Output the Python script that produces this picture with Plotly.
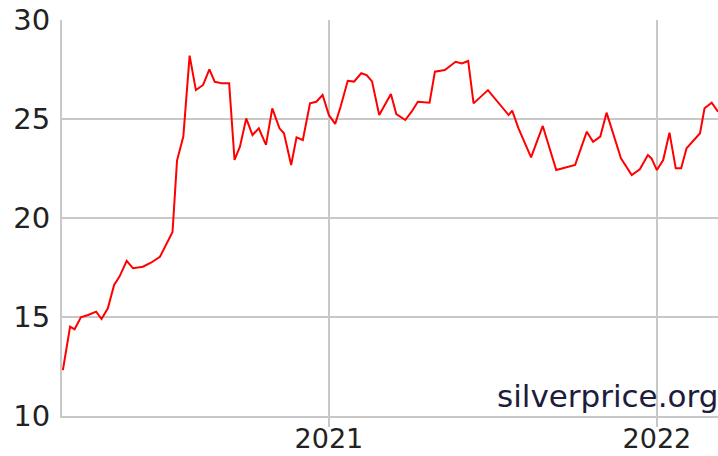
import plotly.graph_objects as go

dates = [
    "2020-03-11", "2020-03-19", "2020-03-24", "2020-03-31", "2020-04-08", "2020-04-17",
    "2020-04-23", "2020-04-30", "2020-05-07", "2020-05-13", "2020-05-21", "2020-05-28",
    "2020-06-08", "2020-06-17", "2020-06-27", "2020-07-06", "2020-07-11", "2020-07-16",
    "2020-07-23", "2020-07-30", "2020-08-06", "2020-08-14", "2020-08-21", "2020-08-27",
    "2020-09-04", "2020-09-12", "2020-09-18", "2020-09-24", "2020-10-01", "2020-10-08",
    "2020-10-15", "2020-10-23", "2020-10-30", "2020-11-07", "2020-11-12", "2020-11-20",
    "2020-11-26", "2020-12-03", "2020-12-11", "2020-12-18", "2020-12-25", "2021-01-01",
    "2021-01-08", "2021-01-14", "2021-01-22", "2021-01-29", "2021-02-06", "2021-02-12",
    "2021-02-18", "2021-02-26", "2021-03-11", "2021-03-17", "2021-03-27", "2021-04-03",
    "2021-04-10", "2021-04-23", "2021-04-29", "2021-05-10", "2021-05-22", "2021-05-29",
    "2021-06-05", "2021-06-11", "2021-06-27", "2021-07-20", "2021-07-24", "2021-07-31",
    "2021-08-14", "2021-08-27", "2021-09-11", "2021-10-02", "2021-10-15", "2021-10-22",
    "2021-10-30", "2021-11-06", "2021-11-13", "2021-11-22", "2021-12-04", "2021-12-13",
    "2021-12-22", "2021-12-26", "2022-01-01", "2022-01-08", "2022-01-15", "2022-01-22",
    "2022-01-28", "2022-02-03", "2022-02-18", "2022-02-23", "2022-03-03", "2022-03-10",
]
prices = [
    12.32, 14.51, 14.38, 14.98, 15.10, 15.27,
    14.90, 15.44, 16.62, 17.04, 17.84, 17.46,
    17.54, 17.74, 18.04, 18.89, 19.30, 22.90,
    24.11, 28.20, 26.46, 26.72, 27.51, 26.88,
    26.80, 26.80, 22.93, 23.60, 25.03, 24.19,
    24.53, 23.69, 25.54, 24.53, 24.28, 22.68,
    24.07, 23.94, 25.79, 25.87, 26.21, 25.20,
    24.75, 25.62, 26.93, 26.89, 27.31, 27.22,
    26.90, 25.20, 26.26, 25.25, 24.95, 25.37,
    25.87, 25.82, 27.39, 27.47, 27.89, 27.81,
    27.93, 25.79, 26.46, 25.20, 25.42, 24.53,
    23.06, 24.65, 22.42, 22.68, 24.36, 23.85,
    24.11, 25.32, 24.36, 23.01, 22.17, 22.46,
    23.18, 23.01, 22.42, 22.93, 24.31, 22.51,
    22.51, 23.52, 24.28, 25.54, 25.82, 25.37,
]
y_ticks = [10, 15, 20, 25, 30]
x_ticks = ["2021-01-01", "2022-01-01"]
x_tick_labels = ["2021", "2022"]
watermark = "silverprice.org"

FONT = "DejaVu Sans"
GRID = "#c8c8c8"
TXT = "#222222"

fig = go.Figure()
fig.add_trace(go.Scatter(
    x=dates, y=prices, mode="lines",
    line=dict(color="#ff0000", width=2),
    hoverinfo="skip", showlegend=False,
))

fig.update_layout(
    width=718, height=456,
    margin=dict(l=62, r=0, t=20, b=40, autoexpand=False),
    paper_bgcolor="white", plot_bgcolor="white",
    font=dict(family=FONT, size=28, color=TXT),
    showlegend=False,
)
fig.update_xaxes(
    type="date", range=["2020-03-10", "2022-03-10"],
    tickmode="array", tickvals=x_ticks, ticktext=x_tick_labels,
    showgrid=True, gridcolor=GRID, gridwidth=2,
    showline=True, linecolor=GRID, linewidth=2,
    ticks="outside", ticklen=9, tickwidth=2, tickcolor=GRID,
    ticklabelstandoff=-11,
    tickfont=dict(family=FONT, size=27, color=TXT),
    zeroline=False, automargin=False,
)
fig.update_yaxes(
    range=[10, 30], tickmode="array", tickvals=y_ticks,
    showgrid=True, gridcolor=GRID, gridwidth=2,
    showline=True, linecolor=GRID, linewidth=2,
    ticks="", ticklabelstandoff=4,
    tickfont=dict(family=FONT, size=29, color=TXT),
    zeroline=False, automargin=False,
)
fig.add_annotation(
    text=watermark, xref="paper", yref="paper", x=1.0, y=0.0,
    xanchor="right", yanchor="bottom", yshift=0, xshift=2, showarrow=False,
    font=dict(family=FONT, size=31, color="#1c1c3c"),
)

fig.write_html(
    "out.html",
    config={"displayModeBar": False},
    post_script="document.body.style.margin='0';document.body.style.overflow='hidden';",
)
